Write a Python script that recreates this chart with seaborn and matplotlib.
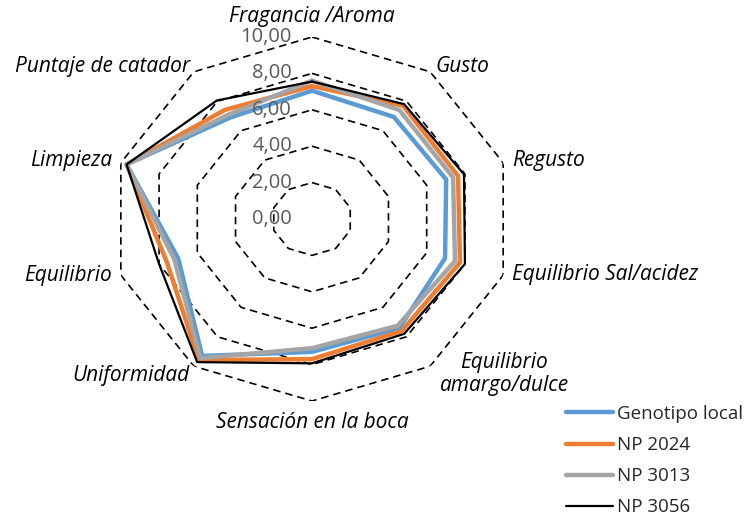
import numpy as np
import pandas as pd
import seaborn as sns
import matplotlib.pyplot as plt

# categories clockwise from the top
categories = ["Fragancia /Aroma", "Gusto", "Regusto", "Equilibrio Sal/acidez",
              "Equilibrio\namargo/dulce", "Sensación en la boca", "Uniformidad",
              "Equilibrio", "Limpieza", "Puntaje de catador"]

genotipo_local = [7.05, 6.93, 7.02, 6.96, 7.40, 7.30, 9.30, 7.00, 9.70, 6.90]
np_2024 = [7.30, 7.70, 7.64, 7.74, 7.60, 7.70, 9.58, 7.60, 9.70, 7.40]
np_3013 = [7.60, 7.40, 7.38, 7.48, 7.25, 7.10, 9.45, 7.20, 9.70, 7.08]
np_3056 = [7.55, 7.80, 7.95, 8.00, 7.80, 7.93, 9.72, 8.00, 9.70, 8.05]

series_names = ["Genotipo local", "NP 2024", "NP 3013", "NP 3056"]
tick_values = [0, 2, 4, 6, 8, 10]
tick_labels = ["0,00", "2,00", "4,00", "6,00", "8,00", "10,00"]

colors = ["#5B9BD5", "#ED7D31", "#A5A5A5", "#000000"]
widths = [3.2, 3.2, 3.2, 1.6]

# offsets (pixels) of each category label from the outer vertex
label_offsets = [(0, 20, "center"), (5, 5, "left"), (9, 2, "left"), (9, 1, "left"),
                 (74, -8, "center"), (0, -21, "center"), (-4, -9, "right"),
                 (-9, 0, "right"), (-9, 2, "right"), (-4, 5, "right")]

sns.set_theme(style="white")
plt.rcParams["font.family"] = ["Open Sans", "DejaVu Sans"]

n = len(categories)
angles = np.linspace(0, 2 * np.pi, n, endpoint=False)
theta_closed = np.append(angles, 2 * np.pi)

rows = []
for name, vals in zip(series_names, [genotipo_local, np_2024, np_3013, np_3056]):
    for t, v in zip(theta_closed, list(vals) + [vals[0]]):
        rows.append({"serie": name, "theta": t, "valor": v})
df = pd.DataFrame(rows)

fig = plt.figure(figsize=(7.5, 5.15), dpi=100)
ax = fig.add_axes([111 / 750, 1 - 401 / 515, 402 / 750, 364 / 515], projection="polar")
ax.set_aspect("auto")
ax.set_theta_zero_location("N")
ax.set_theta_direction(-1)
ax.set_ylim(0, 10)
ax.grid(False)
ax.spines["polar"].set_visible(False)
ax.set_xticks([])
ax.set_yticks([])
ax.set_facecolor("none")

# dashed polygon gridlines
for level in tick_values[1:]:
    ax.plot(theta_closed, [level] * (n + 1), color="black", lw=1.2,
            ls=(0, (4.5, 3)), zorder=1)

for name, c, w in zip(series_names, colors, widths):
    sub = df[df["serie"] == name]
    sns.lineplot(data=sub, x="theta", y="valor", ax=ax, color=c, linewidth=w,
                 sort=False, estimator=None, label=name, zorder=3)
ax.set_xlabel("")
ax.set_ylabel("")
ax.get_legend().remove()

for v, lab in zip(tick_values, tick_labels):
    ax.annotate(lab, xy=(0, v), xytext=(-20, 0), textcoords="offset pixels",
                ha="right", va="center", fontsize=14.5, color="#595959", zorder=5)

for t, lab, (dx, dy, ha) in zip(angles, categories, label_offsets):
    ax.annotate(lab, xy=(t, 10), xytext=(dx, dy), textcoords="offset pixels",
                ha=ha, va="center", fontsize=15, style="italic", color="black",
                linespacing=1.1, multialignment="center")

handles, labels = ax.get_legend_handles_labels()
fig.legend(handles, labels, loc="upper left", bbox_to_anchor=(566 / 750, 1 - 405 / 515),
           frameon=False, fontsize=13.5, handlelength=2.5, handletextpad=0.2,
           labelspacing=0.7, borderpad=0, borderaxespad=0)

fig.savefig("out.png", dpi=100)
